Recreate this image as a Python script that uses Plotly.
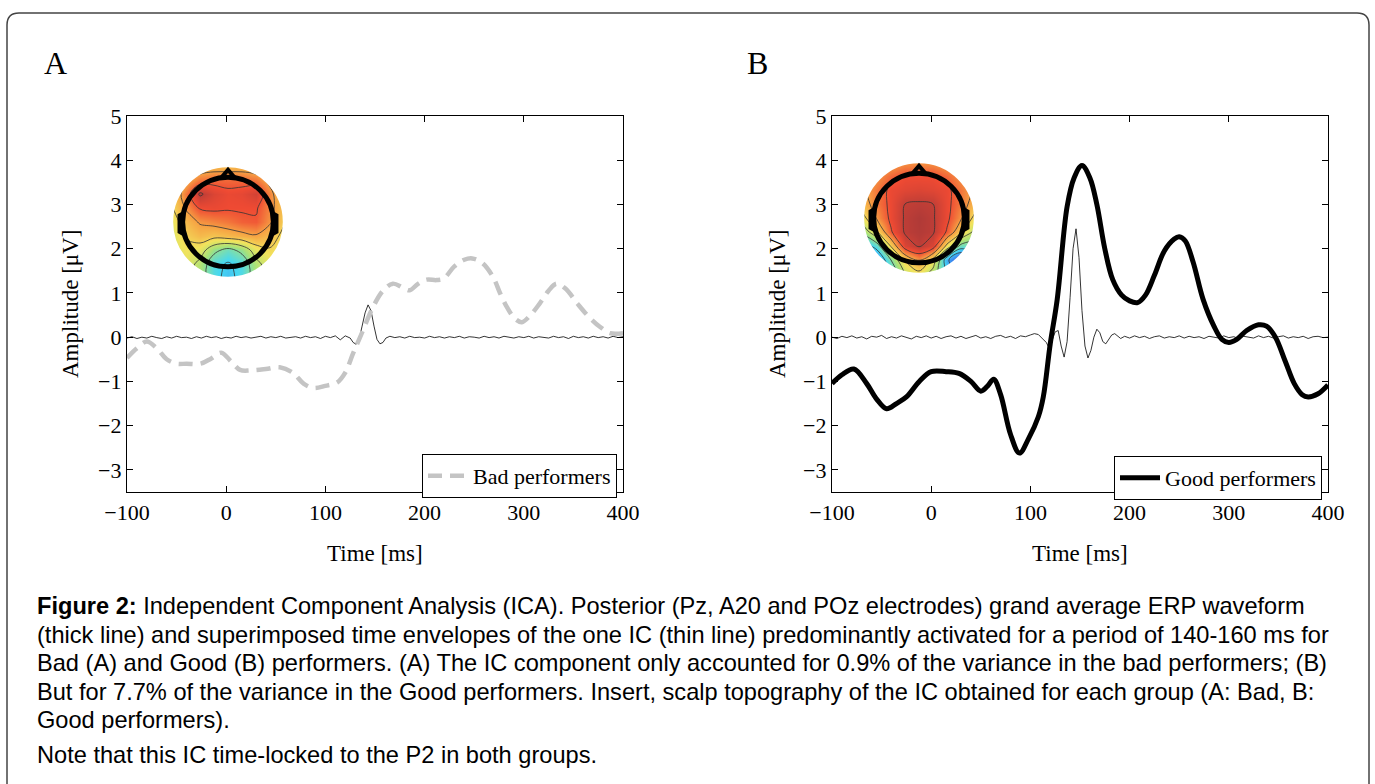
import plotly.graph_objects as go

W, H = 1375, 784
SERIF = "Liberation Serif, Times New Roman, serif"
SANS = "Liberation Sans, Arial, sans-serif"

# ---------------- data ----------------
# Panel A: Bad performers grand-average ERP (thick dashed grey), knots
bad_t = [-100, -90, -80, -70, -60, -50, -40, -26, -15, -5, 5, 14, 25, 40, 54, 67, 78, 88, 100, 112,
         120, 128, 135, 148, 158, 168, 178, 185, 193, 202, 212, 219, 230, 240, 248, 258, 269, 276, 283,
         291, 298, 306, 316, 325, 333, 342, 354, 366, 377, 387, 400]
bad_v = [-0.47, -0.25, -0.1, -0.25, -0.5, -0.6, -0.6, -0.6, -0.48, -0.35, -0.55, -0.74, -0.75, -0.72,
         -0.68, -0.8, -1.05, -1.15, -1.1, -1.02, -0.8, -0.36, 0.0, 0.68, 1.05, 1.21, 1.12, 1.06, 1.2,
         1.3, 1.29, 1.32, 1.6, 1.75, 1.78, 1.68, 1.36, 1.0, 0.68, 0.42, 0.34, 0.48, 0.76, 1.05, 1.21,
         1.1, 0.76, 0.45, 0.23, 0.09, 0.09]

# Panel A: IC time envelope (thin black)
ic_a_t = [-100, -95, -90, -85, -80, -75, -70, -65, -60, -55, -50, -45, -40, -35, -30, -25, -20, -15,
          -10, -5, 0, 5, 10, 15, 20, 25, 30, 35, 40, 45, 50, 55, 60, 65, 70, 75, 80, 85, 90, 95, 100,
          105, 110, 115, 120, 125, 128, 131, 134, 137, 140, 143, 146, 149, 152, 155, 158, 161, 165,
          170, 175, 180, 185, 190, 195, 200, 205, 210, 215, 220, 225, 230, 235, 240, 245, 250, 255,
          260, 265, 270, 275, 280, 285, 290, 295, 300, 305, 310, 315, 320, 325, 330, 335, 340, 345,
          350, 355, 360, 365, 370, 375, 380, 385, 390, 395, 400]
ic_a_v = [-0.02, 0.01, -0.03, 0.0, -0.02, 0.02, -0.01, -0.03, 0.01, -0.02, 0.02, -0.01, 0.0, -0.03,
          0.01, -0.02, 0.02, -0.01, 0.01, -0.03, 0.0, -0.02, 0.02, -0.01, 0.01, -0.02, 0.0, 0.02, -0.02,
          0.01, -0.01, 0.02, -0.02, 0.0, 0.01, -0.02, 0.02, -0.01, 0.01, -0.03, 0.02, -0.01, 0.03,
          -0.06, 0.03, -0.02, -0.12, -0.16, -0.05, 0.25, 0.55, 0.73, 0.6, 0.25, -0.05, -0.15, -0.12,
          -0.02, 0.02, -0.01, 0.01, -0.02, 0.02, -0.01, 0.0, -0.02, 0.02, -0.01, 0.01, -0.02, 0.01,
          -0.01, 0.02, -0.02, 0.01, 0.0, -0.02, 0.02, -0.01, 0.01, -0.02, 0.02, 0.0, -0.02, 0.01,
          -0.01, 0.02, -0.02, 0.01, 0.0, -0.02, 0.02, -0.01, 0.01, -0.03, 0.02, -0.01, 0.01, -0.02,
          0.02, -0.01, 0.01, -0.02, 0.02, -0.01, 0.01]

# Panel B: Good performers grand-average ERP (thick black)
good_t = [-100, -90, -78, -65, -55, -45, -35, -25, -12, 0, 15, 28, 40, 50, 57, 63, 70, 80, 89, 98,
          108, 113, 120, 127, 137, 144, 152, 160, 167, 175, 183, 192, 200, 208, 216, 225, 235, 245,
          250, 256, 264, 274, 285, 293, 300, 308, 318, 330, 338, 347, 357, 366, 374, 380, 390, 400]
good_v = [-1.05, -0.85, -0.72, -1.05, -1.4, -1.62, -1.5, -1.35, -1.0, -0.78, -0.78, -0.82, -1.0,
          -1.22, -1.1, -0.95, -1.3, -2.2, -2.62, -2.3, -1.8, -1.35, -0.15, 0.85, 2.95, 3.6, 3.88, 3.6,
          3.0, 2.0, 1.3, 0.95, 0.82, 0.78, 0.95, 1.4, 1.95, 2.22, 2.27, 2.18, 1.7, 0.86, 0.25, -0.05,
          -0.12, -0.05, 0.15, 0.28, 0.25, 0.0, -0.55, -1.05, -1.3, -1.35, -1.28, -1.08]

# Panel B: IC time envelope (thin black)
ic_b_t = [-100, -95, -90, -85, -80, -75, -70, -65, -60, -55, -50, -45, -40, -35, -30, -25, -20, -15,
          -10, -5, 0, 5, 10, 15, 20, 25, 30, 35, 40, 45, 50, 55, 60, 65, 70, 75, 80, 85, 90, 95, 100,
          104, 108, 112, 116, 119, 122, 125, 128, 131, 134, 137, 140, 143, 146, 149, 152, 155, 158,
          161, 164, 167, 170, 173, 176, 179, 182, 185, 188, 191, 195, 200, 205, 210, 215, 220, 225,
          230, 235, 240, 245, 250, 255, 260, 265, 270, 275, 280, 285, 290, 295, 300, 305, 310, 315,
          320, 325, 330, 335, 340, 345, 350, 355, 360, 365, 370, 375, 380, 385, 390, 395, 400]
ic_b_v = [0.0, -0.03, 0.02, -0.01, 0.03, -0.02, 0.01, -0.04, 0.02, 0.0, 0.04, -0.03, 0.01, -0.02,
          0.03, 0.0, -0.04, 0.02, -0.01, 0.03, -0.02, 0.02, -0.03, 0.01, 0.03, -0.02, 0.02, -0.03,
          0.01, 0.04, -0.02, 0.01, -0.03, 0.02, 0.04, -0.01, 0.02, -0.03, 0.03, 0.01, 0.05, 0.08,
          0.06, -0.02, -0.12, -0.25, -0.05, 0.12, 0.15, -0.2, -0.45, -0.1, 0.9, 2.0, 2.45, 1.8, 0.6,
          -0.2, -0.47, -0.3, 0.0, 0.18, 0.1, -0.1, -0.15, -0.05, 0.05, 0.08, 0.02, -0.03, 0.02,
          -0.02, 0.03, -0.01, 0.02, -0.03, 0.01, 0.03, -0.02, 0.01, -0.01, 0.03, -0.02, 0.02, -0.01,
          0.01, -0.03, 0.02, 0.0, -0.02, 0.03, -0.01, 0.01, -0.03, 0.02, 0.0, -0.02, 0.03, -0.01,
          0.02, -0.02, 0.01, 0.03, -0.02, 0.01, -0.01, 0.02, -0.03, 0.01, 0.02, -0.01, 0.0]

x_ticks = [-100, 0, 100, 200, 300, 400]
y_ticks = [-3, -2, -1, 0, 1, 2, 3, 4, 5]

# Scalp topographies (normalised activation, 9x9 grid, rows bottom -> top, cols left -> right)
topo_grid = [-1.0, -0.75, -0.5, -0.25, 0.0, 0.25, 0.5, 0.75, 1.0]
topo_a = [
    [0.58, 0.58, 0.50, 0.38, 0.32, 0.38, 0.50, 0.58, 0.58],
    [0.58, 0.60, 0.52, 0.38, 0.34, 0.38, 0.52, 0.60, 0.58],
    [0.58, 0.62, 0.60, 0.48, 0.42, 0.48, 0.60, 0.64, 0.60],
    [0.58, 0.66, 0.70, 0.68, 0.70, 0.72, 0.74, 0.70, 0.62],
    [0.60, 0.70, 0.76, 0.78, 0.80, 0.83, 0.84, 0.76, 0.66],
    [0.64, 0.76, 0.86, 0.87, 0.86, 0.86, 0.86, 0.78, 0.68],
    [0.66, 0.80, 0.965, 0.90, 0.87, 0.88, 0.92, 0.78, 0.66],
    [0.64, 0.72, 0.80, 0.82, 0.82, 0.82, 0.80, 0.72, 0.64],
    [0.60, 0.64, 0.68, 0.70, 0.70, 0.70, 0.68, 0.64, 0.60],
]
topo_b = [
    [0.12, 0.18, 0.35, 0.55, 0.62, 0.50, 0.35, 0.25, 0.30],
    [0.15, 0.22, 0.45, 0.66, 0.76, 0.62, 0.28, 0.06, 0.30],
    [0.28, 0.40, 0.66, 0.90, 0.96, 0.90, 0.62, 0.42, 0.40],
    [0.48, 0.64, 0.84, 0.96, 0.98, 0.96, 0.84, 0.66, 0.52],
    [0.62, 0.76, 0.87, 0.96, 0.985, 0.96, 0.87, 0.76, 0.62],
    [0.70, 0.80, 0.87, 0.95, 0.96, 0.95, 0.87, 0.80, 0.70],
    [0.73, 0.80, 0.87, 0.89, 0.90, 0.89, 0.87, 0.80, 0.73],
    [0.70, 0.76, 0.82, 0.86, 0.86, 0.86, 0.82, 0.76, 0.70],
    [0.68, 0.70, 0.73, 0.76, 0.76, 0.76, 0.73, 0.70, 0.68],
]

caption_lines = [
    "<b>Figure 2:</b> Independent Component Analysis (ICA). Posterior (Pz, A20 and POz electrodes) grand average ERP waveform",
    "(thick line) and superimposed time envelopes of the one IC (thin line) predominantly activated for a period of 140-160 ms for",
    "Bad (A) and Good (B) performers. (A) The IC component only accounted for 0.9% of the variance in the bad performers; (B)",
    "But for 7.7% of the variance in the Good performers. Insert, scalp topography of the IC obtained for each group (A: Bad, B:",
    "Good performers).",
    "Note that this IC time-locked to the P2 in both groups.",
]


def fx(x):
    return x / W


def fy(y):
    return 1 - y / H


topo_scale = [[0.0, "#1c2fb0"], [0.12, "#2f5ee8"], [0.25, "#3f9af2"], [0.36, "#45d8f2"],
              [0.5, "#a6e27a"], [0.62, "#f2e35c"], [0.74, "#f6a544"], [0.86, "#ef4a33"],
              [1.0, "#a83838"]]

fig = go.Figure()

fig.add_trace(go.Scatter(x=ic_a_t, y=ic_a_v, mode="lines", line=dict(color="black", width=0.8),
                         showlegend=False, xaxis="x", yaxis="y"))
fig.add_trace(go.Scatter(x=bad_t, y=bad_v, mode="lines", name="Bad performers",
                         line=dict(color="#c4c4c4", width=4.5, dash="14px,8px", shape="spline", smoothing=1.0),
                         xaxis="x", yaxis="y", legend="legend"))
fig.add_trace(go.Scatter(x=ic_b_t, y=ic_b_v, mode="lines", line=dict(color="black", width=0.8),
                         showlegend=False, xaxis="x2", yaxis="y2"))
fig.add_trace(go.Scatter(x=good_t, y=good_v, mode="lines", name="Good performers",
                         line=dict(color="black", width=5, shape="spline", smoothing=1.0),
                         xaxis="x2", yaxis="y2", legend="legend2"))

for z, xa, ya in [(topo_a, "x3", "y3"), (topo_b, "x4", "y4")]:
    fig.add_trace(go.Contour(
        z=z, x=topo_grid, y=topo_grid, colorscale=topo_scale, zmin=0, zmax=1,
        contours=dict(coloring="heatmap", start=0.05, end=0.95, size=0.1),
        line=dict(color="#333333", width=0.8), showscale=False, hoverinfo="skip",
        xaxis=xa, yaxis=ya))

axis_common = dict(showline=True, linecolor="black", linewidth=1.2, mirror="ticks", ticks="inside",
                   ticklen=6, tickcolor="black", showgrid=False, zeroline=False, automargin=False,
                   tickfont=dict(family=SERIF, size=22, color="black"))

R = 56  # topo radius in px
TR = 1.5  # inset axis half-range (topo radius = 1)


def inset_dom(cx, cy):
    return ([fx(cx - TR * R), fx(cx + TR * R)], [fy(cy + TR * R), fy(cy - TR * R)])


a_dx, a_dy = inset_dom(228, 222)
b_dx, b_dy = inset_dom(919, 218)

layout = dict(
    width=W, height=H, margin=dict(l=0, r=0, t=0, b=0, pad=0, autoexpand=False), autosize=False,
    paper_bgcolor="white", plot_bgcolor="rgba(0,0,0,0)",
    xaxis=dict(domain=[fx(127), fx(623)], range=[-100, 400], tickvals=x_ticks, anchor="y", **axis_common),
    yaxis=dict(domain=[fy(492), fy(116)], range=[-3.5, 5], tickvals=y_ticks, anchor="x", **axis_common),
    xaxis2=dict(domain=[fx(832), fx(1328)], range=[-100, 400], tickvals=x_ticks, anchor="y2", **axis_common),
    yaxis2=dict(domain=[fy(492), fy(116)], range=[-3.5, 5], tickvals=y_ticks, anchor="x2", **axis_common),
    xaxis3=dict(domain=a_dx, range=[-TR, TR], visible=False, anchor="y3", automargin=False),
    yaxis3=dict(domain=a_dy, range=[-TR, TR], visible=False, anchor="x3", automargin=False),
    xaxis4=dict(domain=b_dx, range=[-TR, TR], visible=False, anchor="y4", automargin=False),
    yaxis4=dict(domain=b_dy, range=[-TR, TR], visible=False, anchor="x4", automargin=False),
    legend=dict(x=fx(617), y=fy(454), xanchor="right", yanchor="top", bgcolor="white",
                bordercolor="black", borderwidth=1, font=dict(family=SERIF, size=22, color="black"),
                itemwidth=40),
    legend2=dict(x=fx(1322), y=fy(456), xanchor="right", yanchor="top", bgcolor="white",
                 bordercolor="black", borderwidth=1, font=dict(family=SERIF, size=22, color="black"),
                 itemwidth=40),
)
fig.update_layout(**layout)

shapes = []
shapes.append(dict(type="path", xref="paper", yref="paper",
                   path=(f"M {fx(7)},{fy(790)} L {fx(7)},{fy(25)} Q {fx(7)},{fy(13)} {fx(19)},{fy(13)} "
                         f"L {fx(1357)},{fy(13)} Q {fx(1369)},{fy(13)} {fx(1369)},{fy(25)} L {fx(1369)},{fy(790)}"),
                   line=dict(color="#444444", width=1.5)))
for xa, ya in [("x3", "y3"), ("x4", "y4")]:
    shapes.append(dict(type="circle", xref=xa, yref=ya, x0=-1.22, y0=-1.22, x1=1.22, y1=1.22,
                       line=dict(color="white", width=27), layer="above"))
    shapes.append(dict(type="circle", xref=xa, yref=ya, x0=-0.81, y0=-0.8, x1=0.81, y1=0.8,
                       line=dict(color="black", width=5), layer="above"))
    shapes.append(dict(type="path", xref=xa, yref=ya, path="M -0.13,0.78 L 0,0.93 L 0.13,0.78",
                       line=dict(color="black", width=4), layer="above"))
    shapes.append(dict(type="path", xref=xa, yref=ya,
                       path="M -0.8,0.16 L -0.87,0.12 L -0.87,-0.18 L -0.8,-0.22",
                       line=dict(color="black", width=3.5), layer="above"))
    shapes.append(dict(type="path", xref=xa, yref=ya,
                       path="M 0.8,0.16 L 0.87,0.12 L 0.87,-0.18 L 0.8,-0.22",
                       line=dict(color="black", width=3.5), layer="above"))
fig.update_layout(shapes=shapes)

ann = []
for lab, cx in [("A", 55), ("B", 757)]:
    ann.append(dict(text=lab, x=fx(cx), y=fy(63), xref="paper", yref="paper", showarrow=False,
                    xanchor="center", yanchor="middle", font=dict(family=SERIF, size=32, color="black")))
for cx in [70, 777]:
    ann.append(dict(text="Amplitude [μV]", x=fx(cx), y=fy(304), xref="paper", yref="paper",
                    xanchor="center", yanchor="middle",
                    showarrow=False, textangle=-90, font=dict(family=SERIF, size=23, color="black")))
for cx in [375, 1080]:
    ann.append(dict(text="Time [ms]", x=fx(cx), y=fy(553), xref="paper", yref="paper",
                    xanchor="center", yanchor="middle",
                    showarrow=False, font=dict(family=SERIF, size=23, color="black")))
cap_y = [606, 634.5, 663, 691.5, 720, 755]
for txt, yy in zip(caption_lines, cap_y):
    ann.append(dict(text=txt, x=fx(35), y=fy(yy), xref="paper", yref="paper", xanchor="left",
                    yanchor="middle", showarrow=False, align="left",
                    font=dict(family=SANS, size=23.6, color="black")))
fig.update_layout(annotations=ann)

fig.write_html("out.html", config={"displayModeBar": False, "responsive": False},
               post_script="document.body.style.margin='0';document.body.style.overflow='hidden';")
